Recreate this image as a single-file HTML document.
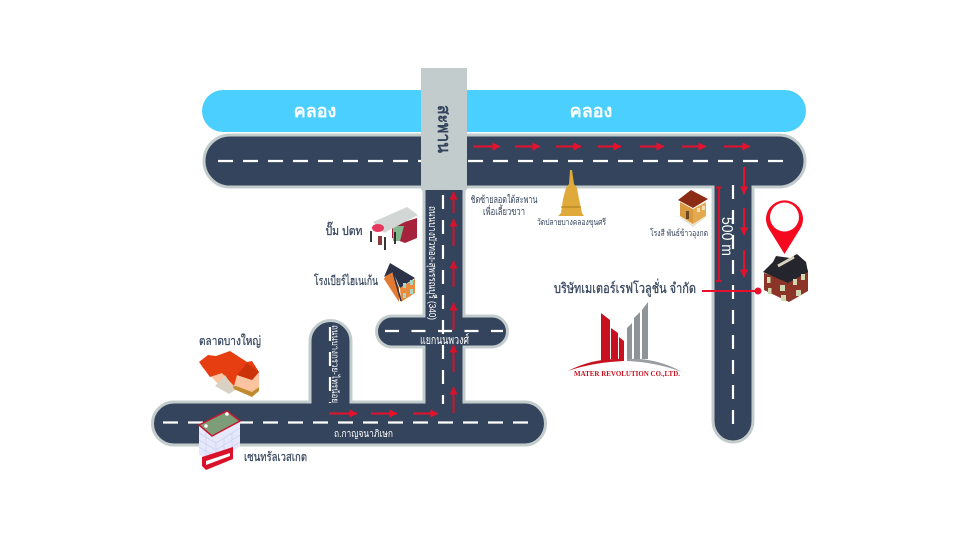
<!DOCTYPE html>
<html><head><meta charset="utf-8">
<style>
html,body{margin:0;padding:0;background:#fff;width:960px;height:537px;overflow:hidden}
svg{display:block}
text{font-family:"Liberation Sans","Noto Sans CJK SC","DejaVu Sans",sans-serif;fill:#34445c}
.s{stroke:#34445c;stroke-width:.25px}
.w{fill:#fff}
</style></head><body>
<svg width="960" height="537" viewBox="0 0 960 537" xmlns="http://www.w3.org/2000/svg">
<defs>
<marker id="a" markerWidth="9" markerHeight="9" refX="7.500" refY="4" orient="auto" markerUnits="userSpaceOnUse"><path d="M0 0L8 4L0 8z" fill="#e8112d"/></marker>
<marker id="b" markerWidth="9" markerHeight="9" refX="7.500" refY="4" orient="auto" markerUnits="userSpaceOnUse"><path d="M0 0L8 4L0 8z" fill="#d8112b"/></marker>
</defs>
<rect x="202" y="90" width="604" height="42" rx="21" fill="#4acfff"/>
<path d="M230 135H779a26 26 0 0 1 0 52H753V421a20 21 0 0 1 -40 0V187H464V316H492a15.500 15.500 0 0 1 0 31H464V402H525a20.500 21.500 0 0 1 0 43H174a21.500 21.500 0 0 1 0 -43H310V341a20.500 20.500 0 0 1 41 0V402H424V347H392a15.500 15.500 0 0 1 0 -31H424V187H230a26 26 0 0 1 0 -52z" fill="#34445c" stroke="#c3cccc" stroke-width="3"/>
<g stroke="#fff" stroke-width="2.200" fill="none">
<path d="M218 161H784" stroke-dasharray="15 10"/>
<path d="M163 422.500H535" stroke-dasharray="15 10"/>
<path d="M443 195V404" stroke-dasharray="14 11"/>
<path d="M385 331H503" stroke-dasharray="14 12.500"/>
<path d="M733 185V430" stroke-dasharray="14 11"/>
<path d="M330 327V403" stroke-dasharray="14 11"/>
</g>
<rect x="421" y="68" width="46" height="122" fill="#c3cccc"/>
<g stroke-width="2" fill="none">
<g stroke="#e8112d">
<path d="M473 146.500H500" marker-end="url(#a)"/><path d="M515 146.500H540" marker-end="url(#a)"/><path d="M556 146.500H581" marker-end="url(#a)"/><path d="M598 146.500H621" marker-end="url(#a)"/><path d="M640 146.500H664" marker-end="url(#a)"/><path d="M682 146.500H706" marker-end="url(#a)"/><path d="M724 146.500H750" marker-end="url(#a)"/>
<path d="M329 413.500H357" marker-end="url(#a)"/><path d="M371 413.500H397" marker-end="url(#a)"/><path d="M413 413.500H438" marker-end="url(#a)"/>
<path d="M744 167V194" marker-end="url(#a)"/><path d="M744 208V235" marker-end="url(#a)"/><path d="M744 250V277" marker-end="url(#a)"/>
</g>
<g stroke="#d8112b">
<path d="M453.500 413V387" marker-end="url(#b)"/><path d="M453.500 372V345" marker-end="url(#b)"/><path d="M453.500 330V303" marker-end="url(#b)"/><path d="M453.500 287V261" marker-end="url(#b)"/><path d="M453.500 246V219" marker-end="url(#b)"/><path d="M453.500 213V192" marker-end="url(#b)"/>
</g>
</g>
<path d="M716 187.500H722M719 187.500V281M716 281H722" stroke="#d3122c" stroke-width="2" fill="none"/>
<path d="M702 291H758" stroke="#e8112d" stroke-width="2"/><circle cx="758" cy="291" r="3.500" fill="#e8112d"/>

<!-- pin -->
<path d="M784.500 254L769 229A18.500 18.500 0 1 1 800 229z" fill="#f5091f"/><circle cx="784.500" cy="217" r="14.500" fill="#fff"/>

<!-- red house -->
<path d="M764 273V290L789 302L808 291V270L788 281z" fill="#8b3427"/>
<path d="M763 272L773 262L776 256L790 258L797 254L806 262L808 272L788 283z" fill="#25252d"/>
<path d="M778 266L794 257" stroke="#d8d4bc" stroke-width="3"/>
<g fill="#cfd8b0"><rect x="767" y="277" width="3.500" height="6"/><rect x="768" y="288" width="3.500" height="6"/><rect x="780" y="285" width="5" height="6"/><rect x="793" y="279" width="4" height="6"/><rect x="801" y="274" width="4" height="6"/><rect x="781" y="295" width="5" height="6"/><rect x="796" y="290" width="5" height="6"/></g>

<!-- small house -->
<path d="M677 215L693 227L709 215L693 224z" fill="#e9e3cf"/>
<path d="M680 202L693 209V224L680 216z" fill="#d99a3f"/>
<path d="M693 209L706 202V216L693 224z" fill="#e3aa52"/>
<path d="M678 200L691 190L708 199L693 208z" fill="#8c2c14"/>
<rect x="686" y="211" width="3" height="8" fill="#6a4a23"/><rect x="697" y="208" width="3" height="4" fill="#f2e0b5"/><rect x="702" y="206" width="3" height="4" fill="#f2e0b5"/>

<!-- wat -->
<path d="M570 170L572 170L574 184L577 188L579 199L582 213L584 216H558L561 213L563 199L566 188L569 184z" fill="#e0aa3a"/>
<path d="M561 207H581" stroke="#a97c22" stroke-width="1"/>

<!-- gas station -->
<path d="M392 226L417 218V238L405 243L392 238z" fill="#a5213c"/>
<path d="M393 226H404L400 241H393z" fill="#7fb88c"/>
<path d="M373 222L407 207L418 215L384 233z" fill="#d2d6d4"/>
<ellipse cx="378" cy="228" rx="6" ry="4" fill="#e5385f"/>
<path d="M371 231V242M385 237V250M395 232V244" stroke="#222" stroke-width="1.800"/>
<rect x="378" y="236" width="4" height="9" fill="#8a3a3a"/>

<!-- heineken house -->
<path d="M384 279L399 302V287L390 268z" fill="#e27a32"/>
<path d="M400 288L415 279V293L401 302z" fill="#ea8b3d"/>
<path d="M384 277L390 263L415 278L400 288L393 272z" fill="#2c3247"/>
<path d="M393 272L401 301" stroke="#2c3247" stroke-width="1.500"/>
<g fill="#a6d6c4"><rect x="403" y="283" width="3" height="5"/><rect x="410" y="280" width="3" height="5"/><rect x="403" y="293" width="3" height="5"/><rect x="410" y="289" width="3" height="5"/></g>

<!-- market -->
<path d="M201 366L222 388L236 386L252 394L259 388V372L240 360L218 366z" fill="#fbc39f"/>
<path d="M222 388L236 390L252 397L259 391V387L252 392L236 386z" fill="#c08a2e"/>
<path d="M199 362L208 355L216 356L230 351L247 362L252 361L259 372L252 380L237 375L234 386L222 373L210 377z" fill="#e63e10"/>
<path d="M215 386L225 375L235 390L229 394z" fill="#d9d2c4"/>
<path d="M237 375L252 380L259 372L247 363z" fill="#cc3208"/>

<!-- central -->
<path d="M199 426L227 412L240 422V446L218 463L199 455z" fill="#e6e9fb"/>
<g stroke="#cdd2f2" stroke-width=".8" fill="none"><path d="M199 433L216 443V458M199 440L216 450M199 447L216 457M206 430V456M216 443L240 428M216 450L240 435M216 457L240 442M224 438V459M232 433V452"/></g>
<path d="M199 425L227 411L240 421L212 436z" fill="#7d9c78" stroke="#c8172c" stroke-width="1.500"/>
<circle cx="206" cy="426" r="1.800" fill="#fff"/><circle cx="227" cy="414" r="1.800" fill="#fff"/>
<path d="M202 457L233 447V459L206 470L202 466z" fill="#d9122a"/>
<path d="M206 461L230 453V456L206 465z" fill="#fff"/>

<!-- logo -->
<path d="M601 313L610 320V361L601 362z" fill="#c8111f"/>
<path d="M611 328L618 333V359H611z" fill="#c8111f"/>
<path d="M619 337L624 341V359H619z" fill="#c8111f"/>
<path d="M627 328L632 323V359H627z" fill="#8f9499"/>
<path d="M634 318L640 312V359H634z" fill="#8f9499"/>
<path d="M642 310L648 302V359H642z" fill="#8f9499"/>
<path d="M568 371C585 362 604 358 624 359V361C603 362 585 365 568 371z" fill="#c8111f"/>
<path d="M627 359C650 358 668 364 682 372C666 366 648 362 627 361z" fill="#9a9ea3"/>
<text x="627" y="376" font-size="7.200" font-weight="bold" text-anchor="middle" textLength="106" lengthAdjust="spacingAndGlyphs" style="font-family:'Liberation Serif',serif;fill:#c8111f">MATER REVOLUTION CO.,LTD.</text>

<!-- labels -->
<g text-anchor="middle">
<text class="w" x="315" y="117" font-size="18" font-weight="bold">คลอง</text>
<text class="w" x="591" y="117" font-size="18" font-weight="bold">คลอง</text>
<text transform="translate(438,129) rotate(90)" font-size="18" font-weight="bold" textLength="48" lengthAdjust="spacingAndGlyphs">สะพาน</text>
<text x="504" y="203" font-size="10" textLength="67" lengthAdjust="spacingAndGlyphs">ชิดซ้ายลอดใต้สะพาน</text>
<text x="504" y="215" font-size="10" textLength="42" lengthAdjust="spacingAndGlyphs">เพื่อเลี้ยวขวา</text>
<text x="571.500" y="225" font-size="9" textLength="69" lengthAdjust="spacingAndGlyphs">วัดปลายบางคลองขุนศรี</text>
<text x="679" y="236" font-size="9" textLength="58" lengthAdjust="spacingAndGlyphs">โรงสี พันธ์ข้าวอุงกต</text>
<text class="s" x="344" y="235" font-size="12.500" textLength="37" lengthAdjust="spacingAndGlyphs">ปั๊ม ปตท</text>
<text class="s" x="346" y="285" font-size="12.500" textLength="64" lengthAdjust="spacingAndGlyphs">โรงเบียร์ไฮเนเก้น</text>
<text class="s" x="230" y="345" font-size="12.500" textLength="62" lengthAdjust="spacingAndGlyphs">ตลาดบางใหญ่</text>
<text class="s" x="275.500" y="461" font-size="12.500" textLength="63" lengthAdjust="spacingAndGlyphs">เซนทรัลเวสเกต</text>
<text class="w" x="363.500" y="437" font-size="10" textLength="59" lengthAdjust="spacingAndGlyphs">ถ.กาญจนาภิเษก</text>
<text class="w" x="444.500" y="344" font-size="12.500" textLength="49" lengthAdjust="spacingAndGlyphs">แยกนนพวงศ์</text>
<text class="s" x="625" y="293" font-size="14" textLength="142" lengthAdjust="spacingAndGlyphs">บริษัทเมเตอร์เรฟโวลูชั่น จำกัด</text>
<text class="w" transform="translate(332,364) rotate(90)" font-size="9.500" textLength="78" lengthAdjust="spacingAndGlyphs">ถนนบางกรวย-ไทรน้อย</text>
<text class="w" transform="translate(429,263) rotate(90)" font-size="10" textLength="114" lengthAdjust="spacingAndGlyphs">ถนนบางบัวทอง-สุพรรณบุรี (340)</text>
<text class="w" transform="translate(722,236.500) rotate(90)" font-size="16" textLength="39" lengthAdjust="spacingAndGlyphs">500 m</text>
</g>
</svg>
</body></html>
